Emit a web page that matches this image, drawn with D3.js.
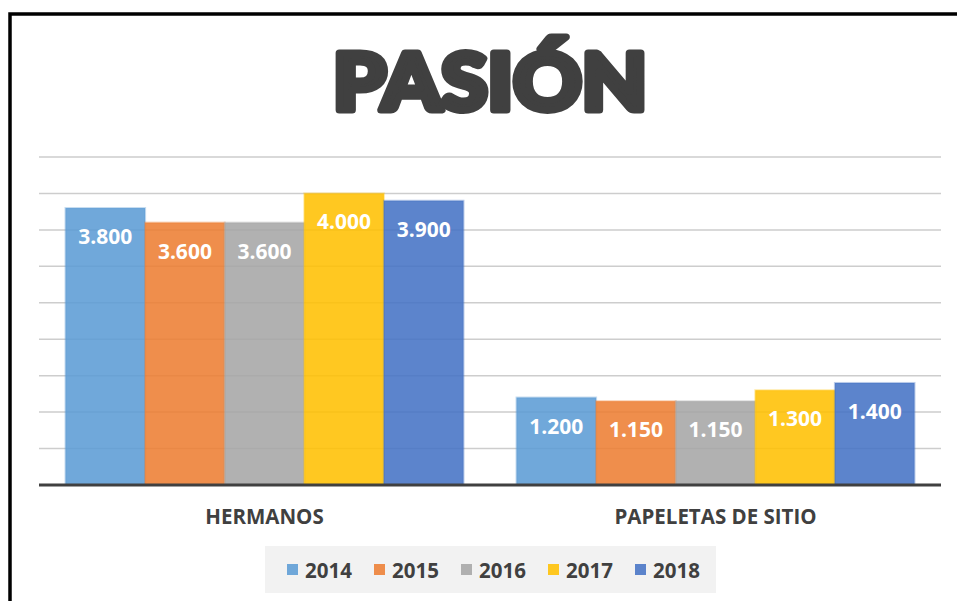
<!DOCTYPE html>
<html>
<head>
<meta charset="utf-8">
<script src="https://cdn.jsdelivr.net/npm/d3@7"></script>
<style>
  body { margin: 0; background: #fff; }
  svg { display: block; }
</style>
</head>
<body>
<div class="chart"></div>
<script>
// chart data
var categories = ["HERMANOS", "PAPELETAS DE SITIO"];
var years = ["2014", "2015", "2016", "2017", "2018"];
var values2014 = [3800, 1200];
var values2015 = [3600, 1150];
var values2016 = [3600, 1150];
var values2017 = [4000, 1300];
var values2018 = [3900, 1400];
var gridTicks = [0, 500, 1000, 1500, 2000, 2500, 3000, 3500, 4000, 4500];
var colors = ["#5b9bd5", "#ed7d31", "#a5a5a5", "#ffc000", "#4472c4"];

var series = [values2014, values2015, values2016, values2017, values2018];

var width = 957, height = 601;
var svg = d3.select(".chart").append("svg")
  .attr("width", width)
  .attr("height", height);

// outer frame
svg.append("rect")
  .attr("x", 10).attr("y", 14)
  .attr("width", 1000).attr("height", 1000)
  .attr("fill", "#fff")
  .attr("stroke", "#000")
  .attr("stroke-width", 3.5);

// title
svg.append("text")
  .attr("x", 490).attr("y", 110)
  .attr("text-anchor", "middle")
  .attr("textLength", 314)
  .attr("lengthAdjust", "spacingAndGlyphs")
  .style("font-family", "Lato, 'DejaVu Sans', sans-serif")
  .style("font-weight", 900)
  .style("font-size", "78px")
  .style("fill", "#404040")
  .style("stroke", "#404040")
  .style("stroke-width", 7)
  .style("stroke-linejoin", "round")
  .text("PASIÓN");

// scales
var x0 = d3.scaleBand().domain(categories).range([39, 941]);
var x1 = d3.scaleBand().domain(years).range([0, x0.bandwidth()]).paddingOuter(0.333);
var y = d3.scaleLinear().domain([0, 4500]).range([485, 157]);

// gridlines
svg.append("g").selectAll("line")
  .data(gridTicks.slice(1))
  .enter().append("line")
  .attr("x1", 39).attr("x2", 941)
  .attr("y1", function(d) { return y(d); })
  .attr("y2", function(d) { return y(d); })
  .attr("stroke", "#cdcdcd")
  .attr("stroke-width", 1.5);

// bars
var groups = svg.append("g").selectAll("g")
  .data(categories)
  .enter().append("g")
  .attr("transform", function(d) { return "translate(" + x0(d) + ",0)"; });

groups.selectAll("rect")
  .data(function(c, i) {
    return years.map(function(yr, j) { return {year: yr, idx: j, value: series[j][i]}; });
  })
  .enter().append("rect")
  .attr("x", function(d) { return x1(d.year); })
  .attr("y", function(d) { return y(d.value); })
  .attr("width", x1.bandwidth())
  .attr("height", function(d) { return y(0) - y(d.value); })
  .attr("fill", function(d) { return colors[d.idx]; })
  .attr("fill-opacity", 0.87)
  .attr("stroke", function(d) { return colors[d.idx]; })
  .attr("stroke-opacity", 0.35)
  .attr("stroke-width", 2);

// value labels
groups.selectAll("text")
  .data(function(c, i) {
    return years.map(function(yr, j) { return {year: yr, value: series[j][i]}; });
  })
  .enter().append("text")
  .attr("x", function(d) { return x1(d.year) + x1.bandwidth() / 2; })
  .attr("y", function(d) { return y(d.value) + 36; })
  .attr("text-anchor", "middle")
  .style("font-family", "'Open Sans', sans-serif")
  .style("font-weight", 700)
  .style("font-size", "21px")
  .style("fill", "#fff")
  .text(function(d) { return d3.format(",")(d.value).replace(",", "."); });

// baseline axis
svg.append("line")
  .attr("x1", 39).attr("x2", 941)
  .attr("y1", y(0)).attr("y2", y(0))
  .attr("stroke", "#404040")
  .attr("stroke-width", 3);

// category labels
svg.append("g").selectAll("text")
  .data(categories)
  .enter().append("text")
  .attr("x", function(d) { return x0(d) + x0.bandwidth() / 2; })
  .attr("y", 524)
  .attr("text-anchor", "middle")
  .style("font-family", "'Open Sans', sans-serif")
  .style("font-weight", 700)
  .style("font-size", "20.5px")
  .style("fill", "#404040")
  .text(function(d) { return d; });

// legend
svg.append("rect")
  .attr("x", 265).attr("y", 546)
  .attr("width", 451).attr("height", 47)
  .attr("fill", "#f2f2f2");

var legend = svg.append("g").selectAll("g")
  .data(years)
  .enter().append("g")
  .attr("transform", function(d, i) { return "translate(" + (287 + i * 87) + ",0)"; });

legend.append("rect")
  .attr("x", 0).attr("y", 564)
  .attr("width", 11).attr("height", 11)
  .attr("fill", function(d, i) { return colors[i]; })
  .attr("fill-opacity", 0.87);

legend.append("text")
  .attr("x", 18).attr("y", 577.5)
  .style("font-family", "'Open Sans', sans-serif")
  .style("font-weight", 700)
  .style("font-size", "20.5px")
  .style("fill", "#404040")
  .text(function(d) { return d; });
</script>
</body>
</html>
